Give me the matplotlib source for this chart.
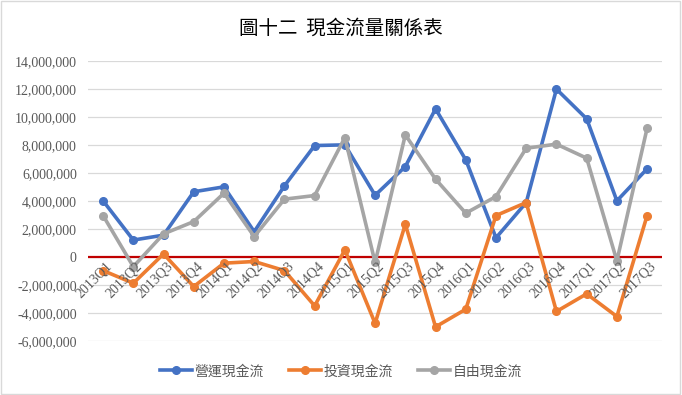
import matplotlib
matplotlib.use("Agg")
from matplotlib import pyplot as plt
from matplotlib.ticker import FuncFormatter
from matplotlib.patches import Rectangle

quarters = ["2013Q1", "2013Q2", "2013Q3", "2013Q4",
            "2014Q1", "2014Q2", "2014Q3", "2014Q4",
            "2015Q1", "2015Q2", "2015Q3", "2015Q4",
            "2016Q1", "2016Q2", "2016Q3", "2016Q4",
            "2017Q1", "2017Q2", "2017Q3"]

operating = [4000000, 1200000, 1550000, 4650000, 5000000, 1800000, 5070000, 7950000,
             8000000, 4400000, 6450000, 10570000, 6930000, 1360000, 3880000, 11980000,
             9860000, 4000000, 6290000]
investing = [-980000, -1880000, 210000, -2120000, -450000, -330000, -980000, -3500000,
             500000, -4750000, 2330000, -5000000, -3740000, 2950000, 3880000, -3900000,
             -2640000, -4260000, 2950000]
free_cf = [2950000, -700000, 1640000, 2520000, 4550000, 1450000, 4120000, 4380000,
           8520000, -400000, 8710000, 5550000, 3120000, 4310000, 7760000, 8050000,
           7050000, -290000, 9190000]

series_names = ["營運現金流", "投資現金流", "自由現金流"]
series_colors = ["#4472C4", "#ED7D31", "#A5A5A5"]

cjk = ["Noto Sans CJK TC", "DejaVu Sans"]
grey_txt = "#595959"

fig = plt.figure(figsize=(6.82, 3.95), dpi=100)
fig.patches.append(Rectangle((0.002, 0.003), 0.995, 0.994, transform=fig.transFigure,
                             fill=False, edgecolor="#D9D9D9", linewidth=1))
ax = fig.add_axes([0.129, 0.137, 0.842, 0.709])

x = list(range(len(quarters)))
for vals, name, col in zip([operating, investing, free_cf], series_names, series_colors):
    ax.plot(x, vals, color=col, linewidth=2.6, marker="o", markersize=5.5,
            label=name, zorder=3)

ax.axhline(0, color="#C00000", linewidth=1.6, zorder=2)

ax.set_xlim(-0.5, len(quarters) - 0.5)
ax.set_ylim(-6000000, 14000000)
ax.set_yticks(range(-6000000, 14000001, 2000000))
ax.yaxis.set_major_formatter(FuncFormatter(lambda v, p: f"{int(v):,}"))
ax.grid(axis="y", color="#D9D9D9", linewidth=0.9, zorder=0)
ax.set_xticks([])
for s in ax.spines.values():
    s.set_visible(False)
ax.tick_params(axis="y", length=0, pad=8, labelcolor=grey_txt, labelsize=10)
for lab in ax.get_yticklabels():
    lab.set_fontfamily("Liberation Serif")

# category labels sit along the zero line, as Excel does
for i, q in enumerate(quarters):
    ax.annotate(q, (i, 0), xytext=(5, -5), textcoords="offset points",
                rotation=45, ha="right", va="center", rotation_mode="anchor",
                fontsize=10, color=grey_txt, family="Liberation Serif")

fig.text(0.5, 0.93, "圖十二  現金流量關係表", ha="center", va="center",
         fontsize=14, family=cjk, fontweight="light", color="#000000")

leg = fig.legend(loc="center", bbox_to_anchor=(0.5, 0.06), ncol=3, frameon=False,
                 prop={"family": cjk, "size": 10, "weight": "light"},
                 handlelength=2.3, columnspacing=1.8, handletextpad=0.2)
for t in leg.get_texts():
    t.set_color(grey_txt)

fig.savefig("out.png", dpi=100)
